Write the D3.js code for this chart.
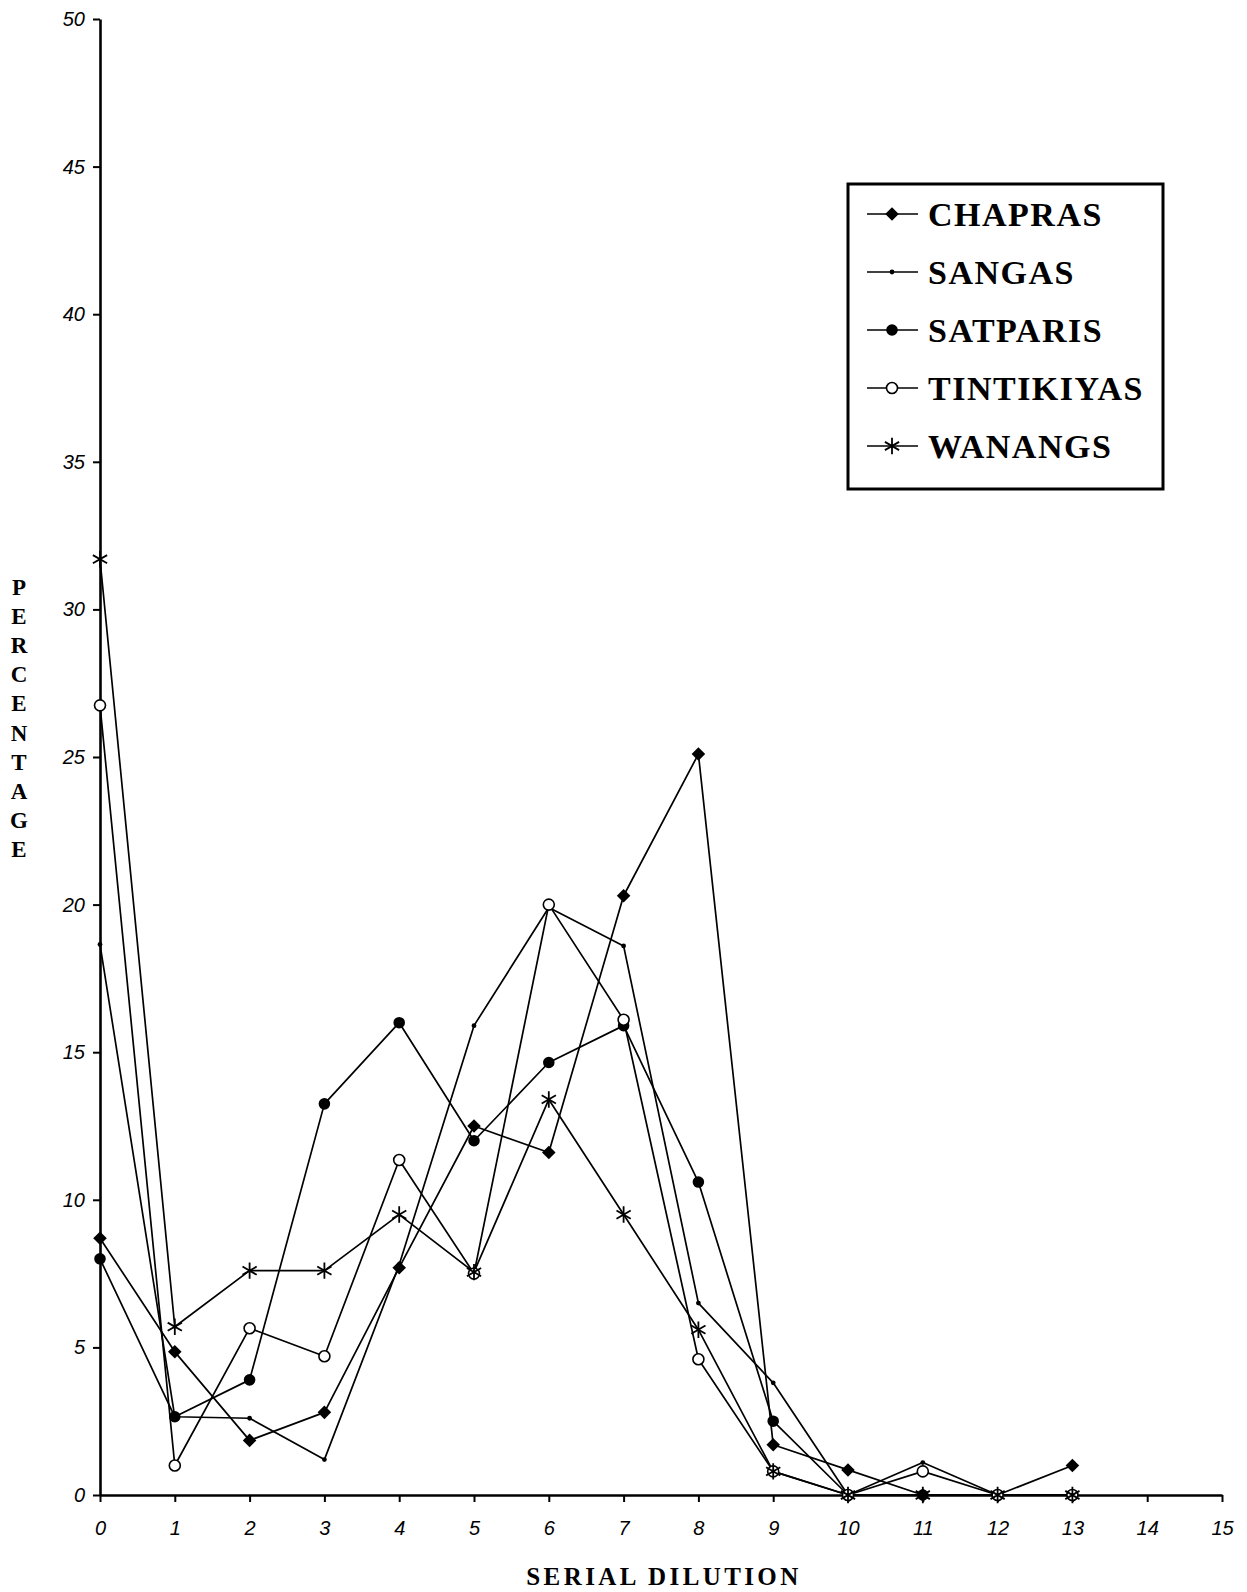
<!DOCTYPE html>
<html>
<head>
<meta charset="utf-8">
<script src="https://cdn.jsdelivr.net/npm/d3@7"></script>
<style>
  html, body { margin: 0; padding: 0; background: #fff; }
  svg { display: block; }
</style>
</head>
<body>
<svg id="chart" width="1247" height="1592"></svg>
<script>
// ── Data ──
var dilution   = [0, 1, 2, 3, 4, 5, 6, 7, 8, 9, 10, 11, 12, 13];
var chapras    = [8.7, 4.85, 1.85, 2.8, 7.7, 12.5, 11.6, 20.3, 25.1, 1.7, 0.85, 0, 0, 1.0];
var sangas     = [18.65, 2.65, 2.6, 1.2, 7.8, 15.9, 19.9, 18.6, 6.5, 3.8, 0, 1.1, 0, 0];
var satparis   = [8.0, 2.65, 3.9, 13.25, 16.0, 12.0, 14.65, 15.9, 10.6, 2.5, 0, 0, 0, 0];
var tintikiyas = [26.75, 1.0, 5.65, 4.7, 11.35, 7.5, 20.0, 16.1, 4.6, 0.8, 0, 0.8, 0, 0];
var wanangs    = [31.7, 5.7, 7.6, 7.6, 9.5, 7.55, 13.4, 9.5, 5.6, 0.8, 0, 0, 0, 0];
var seriesNames = ['CHAPRAS', 'SANGAS', 'SATPARIS', 'TINTIKIYAS', 'WANANGS'];
var xTicks = d3.range(0, 16, 1);
var yTicks = d3.range(0, 55, 5);

(function () {
  'use strict';

  var svg = d3.select('#chart');
  var x = d3.scaleLinear().domain([0, 15]).range([100, 1222]);
  var y = d3.scaleLinear().domain([0, 50]).range([1495, 19]);

  var series = [
    { name: seriesNames[0], values: chapras,    marker: 'diamond' },
    { name: seriesNames[1], values: sangas,     marker: 'dot' },
    { name: seriesNames[2], values: satparis,   marker: 'disc' },
    { name: seriesNames[3], values: tintikiyas, marker: 'ring' },
    { name: seriesNames[4], values: wanangs,    marker: 'star' }
  ];

  // markers
  function drawMarker(g, kind) {
    if (kind === 'diamond') {
      g.append('path').attr('d', d3.symbol().type(d3.symbolSquare).size(92)())
        .attr('transform', 'rotate(45)').attr('fill', '#000');
    } else if (kind === 'dot') {
      g.append('path').attr('d', d3.symbol().type(d3.symbolCircle).size(18)()).attr('fill', '#000');
    } else if (kind === 'disc') {
      g.append('path').attr('d', d3.symbol().type(d3.symbolCircle).size(105)()).attr('fill', '#000');
    } else if (kind === 'ring') {
      g.append('path').attr('d', d3.symbol().type(d3.symbolCircle).size(95)())
        .attr('fill', '#fff').attr('stroke', '#000').attr('stroke-width', 1.6);
    } else {
      g.append('path').attr('d', d3.symbol().type(d3.symbolAsterisk).size(190)())
        .attr('fill', 'none').attr('stroke', '#000').attr('stroke-width', 1.8);
    }
  }

  // ── Axes ──
  var yAxis = svg.append('g').attr('transform', 'translate(' + x(0) + ',0)')
    .call(d3.axisLeft(y).tickValues(yTicks).tickSize(7).tickSizeOuter(0).tickPadding(8));
  var xAxis = svg.append('g').attr('transform', 'translate(0,' + y(0) + ')')
    .call(d3.axisBottom(x).tickValues(xTicks).tickSize(7).tickSizeOuter(0).tickPadding(19));

  [yAxis, xAxis].forEach(function (ax) {
    ax.select('.domain').attr('stroke', '#000').attr('stroke-width', 2.6);
    ax.selectAll('.tick line').attr('stroke', '#000').attr('stroke-width', 2);
    ax.selectAll('.tick text').attr('fill', '#000')
      .style('font', 'italic 20px "Liberation Sans", Arial, sans-serif');
  });

  // ── Lines ──
  var line = d3.line()
    .x(function (d, i) { return x(dilution[i]); })
    .y(function (d) { return y(d); });

  series.forEach(function (s) {
    svg.append('path').datum(s.values).attr('d', line)
      .attr('fill', 'none').attr('stroke', '#000').attr('stroke-width', 1.7)
      .attr('stroke-linejoin', 'round');
  });

  series.forEach(function (s) {
    svg.append('g').selectAll('g').data(s.values).join('g')
      .attr('transform', function (d, i) { return 'translate(' + x(dilution[i]) + ',' + y(d) + ')'; })
      .each(function () { drawMarker(d3.select(this), s.marker); });
  });

  // ── Axis titles ──
  var serif = '"Liberation Serif", "Times New Roman", serif';
  svg.append('g').selectAll('text').data('PERCENTAGE'.split('')).join('text')
    .attr('x', 19).attr('y', function (d, i) { return 595 + i * 29.1; })
    .attr('text-anchor', 'middle')
    .style('font', 'bold 23px ' + serif)
    .text(function (d) { return d; });

  svg.append('text').attr('x', 664).attr('y', 1585).attr('text-anchor', 'middle')
    .style('font', 'bold 25px ' + serif).style('letter-spacing', '3.4px')
    .text('SERIAL  DILUTION');

  // ── Legend ──
  var legend = svg.append('g');
  legend.append('rect').attr('x', 848).attr('y', 184).attr('width', 315).attr('height', 305)
    .attr('fill', '#fff').attr('stroke', '#000').attr('stroke-width', 3);
  var rows = legend.selectAll('g.row').data(series).join('g').attr('class', 'row')
    .attr('transform', function (d, i) { return 'translate(0,' + (214 + i * 58) + ')'; });
  rows.append('line').attr('x1', 867).attr('x2', 918).attr('stroke', '#000').attr('stroke-width', 1.5);
  rows.append('g').attr('transform', 'translate(892,0)')
    .each(function (d) { drawMarker(d3.select(this), d.marker); });
  rows.append('text').attr('x', 928).attr('y', 12)
    .style('font', 'bold 34px ' + serif).style('letter-spacing', '1.5px')
    .text(function (d) { return d.name; });
})();
</script>
</body>
</html>
